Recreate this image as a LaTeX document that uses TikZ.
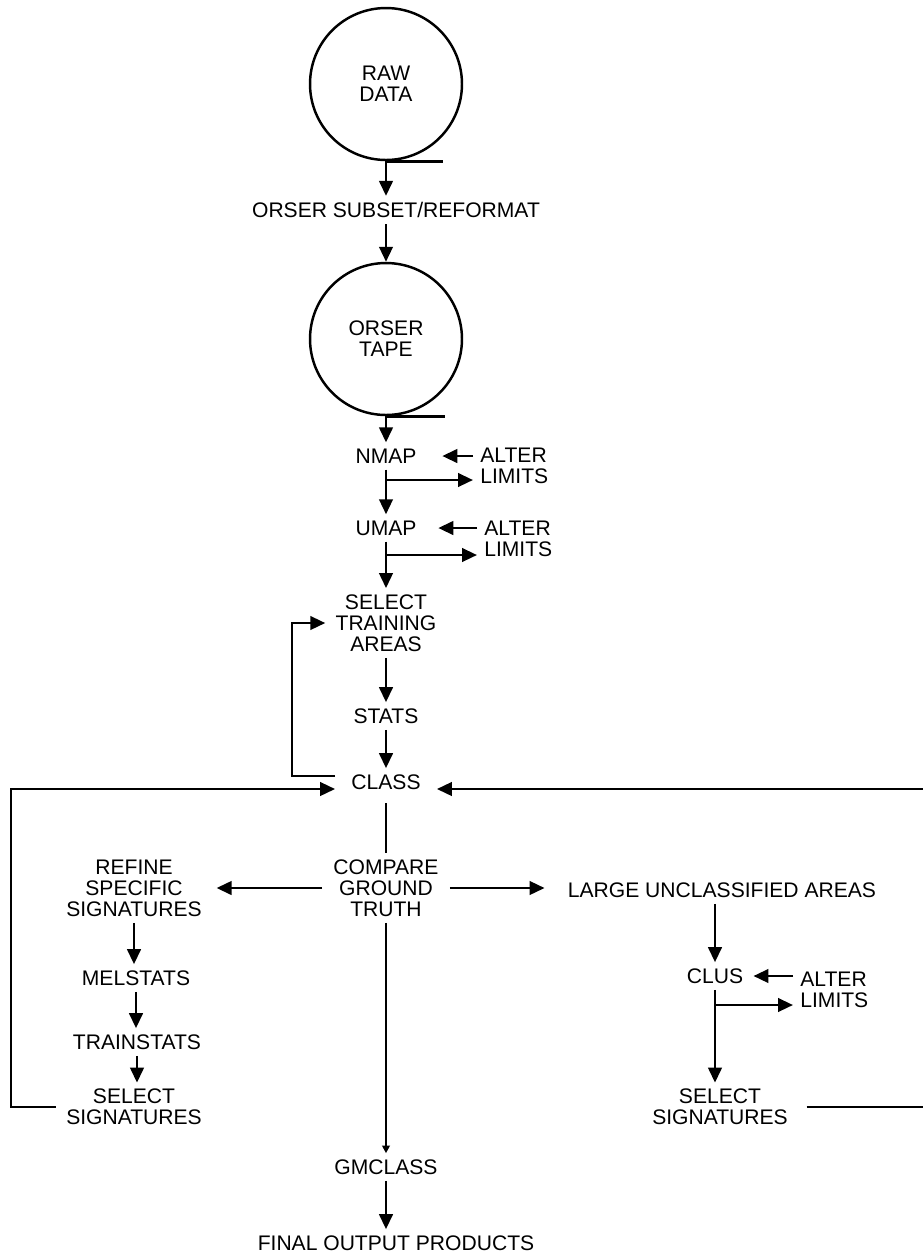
\documentclass[tikz,border=0pt]{standalone}
\usepackage{fontspec}
\setmainfont{Liberation Sans}
\usepackage{tikz}
\usetikzlibrary{arrows.meta,calc}
\tikzset{
  lbl/.style={font=\fontsize{12}{12}\selectfont,align=center,inner xsep=0.2cm,inner ysep=0.12cm},
  lbl_alt/.style={font=\fontsize{12}{12}\selectfont,align=left,inner xsep=0.14cm,inner ysep=0pt,anchor=west},
  tape/.style={draw,circle,line width=1.4pt,minimum size=3.04cm,inner sep=0pt,
    font=\fontsize{12}{12}\selectfont,align=center},
  arr/.style={-{Triangle[length=0.3cm,width=0.27cm]},line width=1.5pt},
  arr_s/.style={-{Triangle[length=0.15cm,width=0.15cm]},line width=1.5pt},
  ln/.style={line width=1.5pt},
}
\begin{document}
\begin{tikzpicture}[x=0.02cm,y=-0.02cm]
  \useasboundingbox (0,0) rectangle (923,1259);

  \node[tape] (raw) at (386,84) {RAW\\DATA};
  \node[lbl] (subset) at (396,210) {ORSER SUBSET/REFORMAT};
  \node[tape] (otape) at (386,339) {ORSER\\TAPE};

  \node[lbl,inner xsep=0.51cm] (nmap) at (386,456) {NMAP};
  \node[lbl_alt] (alt1) at (473,466) {ALTER\\LIMITS};
  \node[lbl,inner xsep=0.43cm] (umap) at (386,528) {UMAP};
  \node[lbl_alt] (alt2) at (477,539) {ALTER\\LIMITS};
  \node[lbl] (train) at (386,623) {SELECT\\TRAINING\\AREAS};
  \node[lbl] (stats) at (386,716) {STATS};
  \node[lbl,inner xsep=0.32cm] (class) at (386,782) {CLASS};
  \node[lbl,inner xsep=0.22cm] (compare) at (386,888) {COMPARE\\GROUND\\TRUTH};
  \node[lbl] (gmclass) at (386,1167) {GMCLASS};
  \node[lbl] (final) at (396,1243) {FINAL OUTPUT PRODUCTS};

  \node[lbl,inner xsep=0.29cm] (refine) at (134,888) {REFINE\\SPECIFIC\\SIGNATURES};
  \node[lbl] (melstats) at (136,978) {MELSTATS};
  \node[lbl] (trainstats) at (137,1042) {TRAINSTATS};
  \node[lbl] (selsig1) at (134,1107) {SELECT\\SIGNATURES};

  \node[lbl,inner xsep=0.46cm] (large) at (722,890) {LARGE UNCLASSIFIED AREAS};
  \node[lbl] (clus) at (715,976) {CLUS};
  \node[lbl_alt] (alt3) at (793,990) {ALTER\\LIMITS};
  \node[lbl,inner xsep=0.37cm] (selsig2) at (720,1107) {SELECT\\SIGNATURES};

  \coordinate (lim1) at ($(alt1.west)+(0,14)$);
  \coordinate (lim2) at ($(alt2.west)+(0,16)$);
  \coordinate (lim3) at ($(alt3.west)+(0,15)$);

  \draw[ln] (raw.south) -- ++(57,0); \draw[ln] (otape.south) -- ++(59,0);
  \draw[arr] (raw.south) -- (raw.south |- subset.north);
  \draw[arr] (raw.south |- subset.south) -- (otape.north);
  \draw[arr] (otape.south) -- (nmap.north);
  \draw[arr] (alt1.west |- nmap) -- (nmap); \draw[arr] (nmap.south |- lim1) -- (lim1);
  \draw[arr] (nmap.south) -- (umap.north);
  \draw[arr] (alt2.west |- umap) -- (umap); \draw[arr] (umap.south |- lim2) -- (lim2);
  \draw[arr] (umap.south) -- (train.north);
  \draw[arr] (train.south) -- (stats.north);
  \draw[arr] (stats.south) -- (class.north);
  \draw[arr] ([yshift=0.12cm]class.west) -- ++(-43,0) |- (train.west);
  \draw[ln,shorten <=0.15cm] (class.south) -- (compare.north);
  \draw[arr] (compare.west) -- (refine.east);
  \draw[arr] (compare.east) -- (large.west |- compare.east);
  \draw[arr_s] (compare.south) -- (gmclass.north);
  \draw[arr] (gmclass.south) -- (gmclass.south |- final.north);

  \draw[arr] (refine.south) -- (refine.south |- melstats.north);
  \draw[arr] (melstats.south) -- (melstats.south |- trainstats.north);
  \draw[arr] (trainstats.south) -- (trainstats.south |- selsig1.north);
  \draw[arr] (selsig1.west) -- ++(-45,0) |- ([yshift=-0.14cm]class.west);

  \draw[arr] (clus.north |- large.south) -- (clus.north);
  \draw[arr] (alt3.west |- clus) -- (clus); \draw[arr] (clus.south |- lim3) -- (lim3);
  \draw[arr] (clus.south) -- (clus.south |- selsig2.north);
  \draw[arr] (selsig2.east) -- ++(122,0) |- ([yshift=-0.14cm]class.east);
\end{tikzpicture}
\end{document}
